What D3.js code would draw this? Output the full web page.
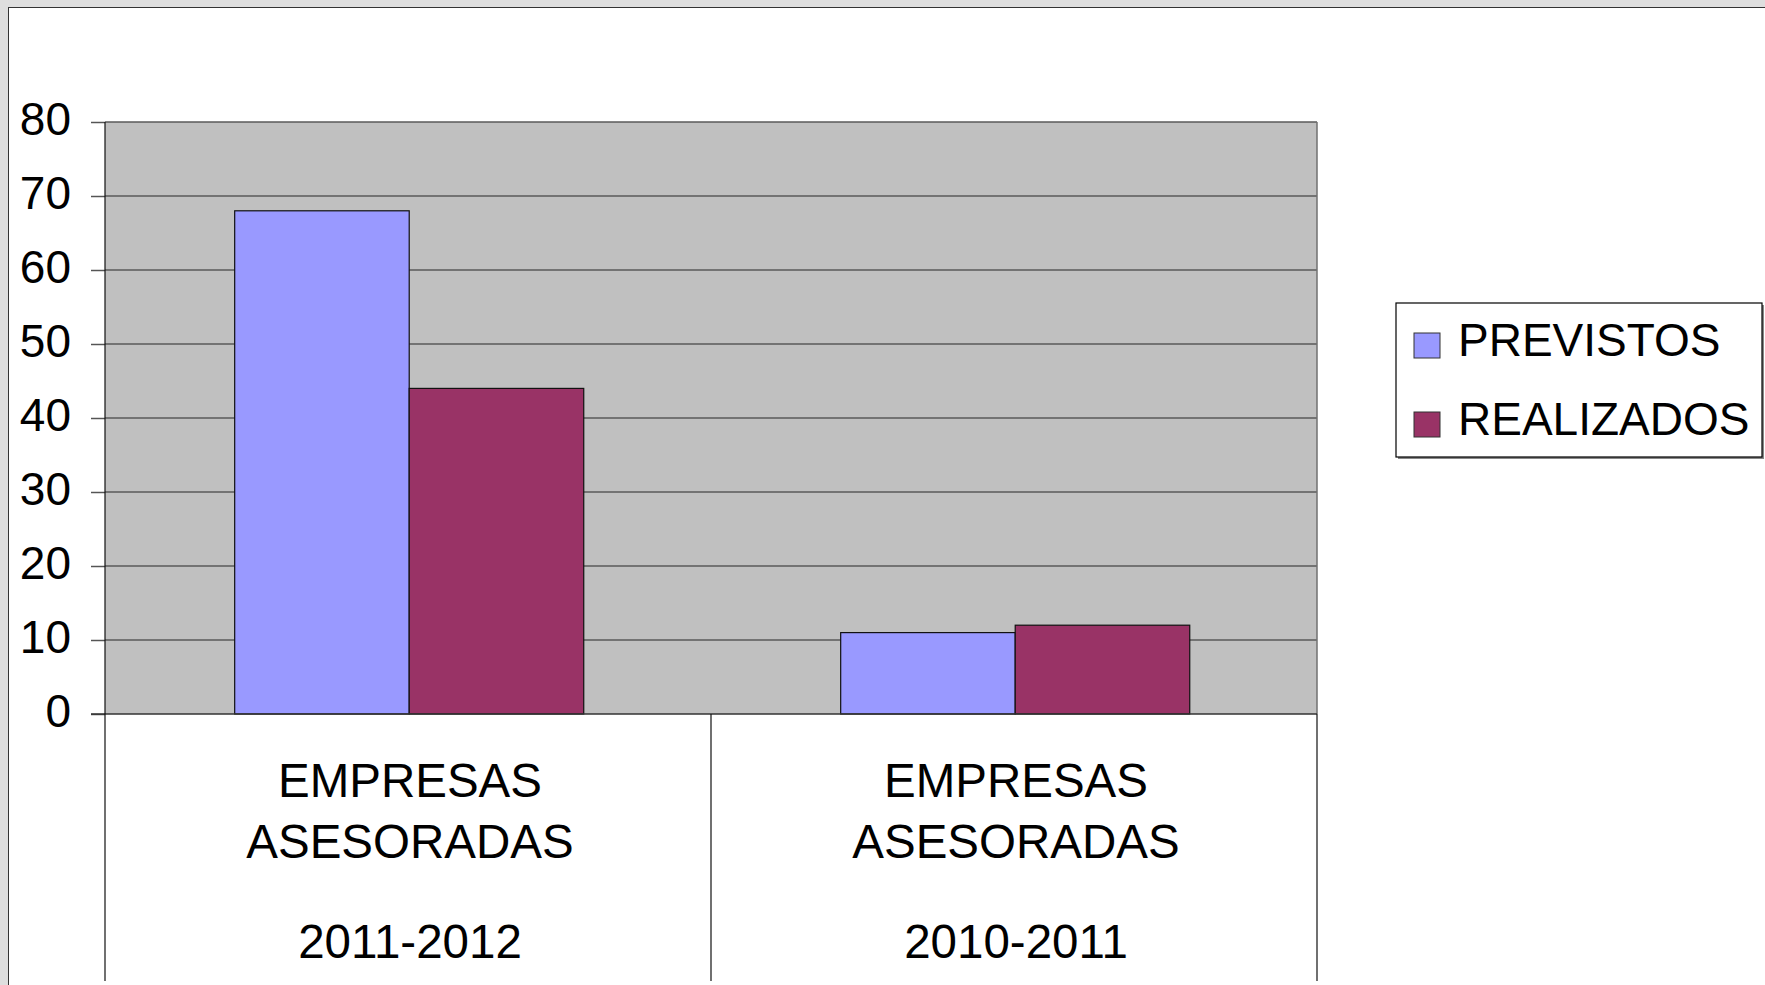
<!DOCTYPE html>
<html>
<head>
<meta charset="utf-8">
<script src="https://cdn.jsdelivr.net/npm/d3@7"></script>
<style>
  html, body { margin: 0; padding: 0; background: #dedede; }
  svg { display: block; font-family: "Liberation Sans", Arial, sans-serif; }
</style>
</head>
<body>
<svg id="chart" width="1765" height="985"></svg>
<script>
// ---- data ----
const categories = ["EMPRESAS ASESORADAS 2011-2012", "EMPRESAS ASESORADAS 2010-2011"];
const categoryLines = [
  ["EMPRESAS", "ASESORADAS", "2011-2012"],
  ["EMPRESAS", "ASESORADAS", "2010-2011"]
];
const seriesNames = ["PREVISTOS", "REALIZADOS"];
const previstos = [68, 11];
const realizados = [44, 12];
const seriesColors = ["#9999ff", "#993366"];
const yTicks = [0, 10, 20, 30, 40, 50, 60, 70, 80];

// ---- layout ----
const W = 1765, H = 985;
const plot = { left: 105, right: 1317, top: 122, bottom: 714 };
const svg = d3.select("#chart");

// frame
svg.append("rect").attr("x", 8.5).attr("y", 7.5).attr("width", W).attr("height", H)
  .attr("fill", "#ffffff").attr("stroke", "#333333").attr("stroke-width", 1);

const y = d3.scaleLinear().domain([0, 80]).range([plot.bottom, plot.top]);
const x0 = d3.scaleBand().domain(categories).range([plot.left, plot.right]).paddingInner(0).paddingOuter(0);
const bw = x0.bandwidth();
const x1 = d3.scaleBand().domain(seriesNames).range([bw * 0.214, bw * 0.79]).padding(0);

// plot background
svg.append("rect").attr("x", plot.left).attr("y", plot.top)
  .attr("width", plot.right - plot.left).attr("height", plot.bottom - plot.top)
  .attr("fill", "#c0c0c0");

// gridlines
svg.append("g").selectAll("line").data(yTicks.filter(d => d > 0)).join("line")
  .attr("x1", plot.left).attr("x2", plot.right)
  .attr("y1", d => y(d)).attr("y2", d => y(d))
  .attr("stroke", "#5a5a5a").attr("stroke-width", 1.5);

// right border of plot
svg.append("line").attr("x1", plot.right).attr("x2", plot.right)
  .attr("y1", plot.top).attr("y2", plot.bottom)
  .attr("stroke", "#707070").attr("stroke-width", 1.5);

// y axis
const yAxis = d3.axisLeft(y).tickValues(yTicks).tickSize(14).tickPadding(20);
const gy = svg.append("g").attr("transform", `translate(${plot.left},0)`).call(yAxis);
gy.select(".domain").remove();
gy.selectAll(".tick line").attr("stroke", "#555").attr("stroke-width", 1.5);
gy.selectAll(".tick text")
  .attr("font-family", "Liberation Sans, Arial, sans-serif")
  .attr("font-size", 46).attr("fill", "#000")
  .attr("dy", "0.27em");

// bars
const data = categories.map((c, i) => ({ cat: c, vals: [previstos[i], realizados[i]] }));
const groups = svg.append("g").selectAll("g").data(data).join("g")
  .attr("transform", d => `translate(${x0(d.cat)},0)`);
groups.selectAll("rect").data(d => d.vals.map((v, j) => ({ s: seriesNames[j], v, j }))).join("rect")
  .attr("x", d => x1(d.s)).attr("width", x1.bandwidth())
  .attr("y", d => y(d.v)).attr("height", d => y(0) - y(d.v))
  .attr("fill", d => seriesColors[d.j])
  .attr("stroke", "#111").attr("stroke-width", 1.2);

// x axis line
svg.append("line").attr("x1", plot.left - 14).attr("x2", plot.right)
  .attr("y1", plot.bottom).attr("y2", plot.bottom)
  .attr("stroke", "#333").attr("stroke-width", 1.5);

// y axis line + category dividers
const dividers = [plot.left].concat(categories.map(c => x0(c) + bw));
svg.append("line").attr("x1", plot.left).attr("x2", plot.left)
  .attr("y1", plot.top).attr("y2", plot.bottom).attr("stroke", "#111").attr("stroke-width", 1.2);
svg.append("g").selectAll("line").data(dividers).join("line")
  .attr("x1", d => d).attr("x2", d => d)
  .attr("y1", plot.bottom).attr("y2", 981)
  .attr("stroke", "#111").attr("stroke-width", 1.2);

// category labels
const lineY = [797, 858, 958];
const labels = svg.append("g").selectAll("text").data(categories).join("text")
  .attr("text-anchor", "middle")
  .attr("font-size", 47.5).attr("fill", "#000");
labels.each(function (c, i) {
  const t = d3.select(this);
  categoryLines[i].forEach((ln, k) => {
    t.append("tspan").attr("x", x0(c) + bw / 2 + 2).attr("y", lineY[k]).text(ln);
  });
});

// legend
const lg = svg.append("g");
const lx = 1396, ly = 303, lw = 366, lh = 154;
lg.append("rect").attr("x", lx + 2).attr("y", ly + 2).attr("width", lw).attr("height", lh)
  .attr("fill", "#888");
lg.append("rect").attr("x", lx).attr("y", ly).attr("width", lw).attr("height", lh)
  .attr("fill", "#fff").attr("stroke", "#000").attr("stroke-width", 1.2);
const items = lg.selectAll("g").data(seriesNames).join("g")
  .attr("transform", (d, i) => `translate(${lx + 18},${ly + 30 + i * 79})`);
items.append("rect").attr("width", 26).attr("height", 25)
  .attr("fill", (d, i) => seriesColors[i]).attr("stroke", "#333").attr("stroke-width", 1);
items.append("text").attr("x", 44).attr("y", 23)
  .attr("font-size", 46).attr("fill", "#000")
  .text(d => d);
</script>
</body>
</html>
